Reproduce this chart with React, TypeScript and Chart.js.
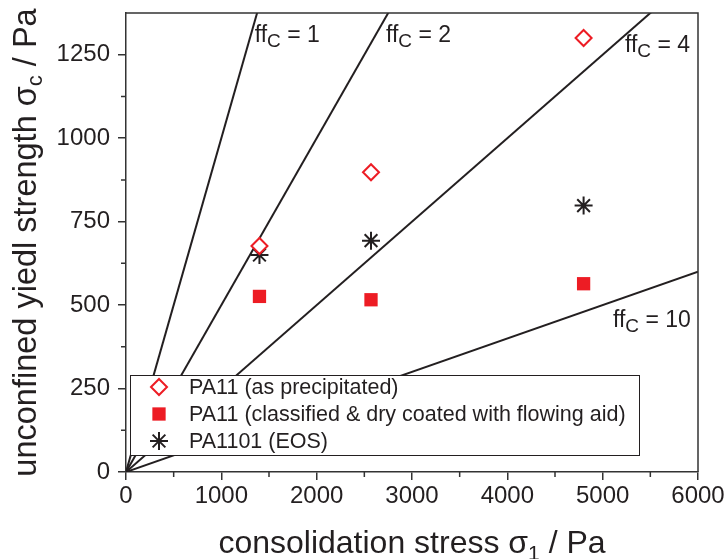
import React, { useEffect, useRef } from 'react';
import { Chart, registerables } from 'chart.js';
import { drawPoint } from 'chart.js/helpers';

Chart.register(...registerables);

// ---- data ----
const stressAsPrecipitated = [1400, 2570, 4800];
const strengthAsPrecipitated = [677, 898, 1300];
const stressClassified = [1400, 2570, 4800];
const strengthClassified = [526, 516, 564];
const stressEOS = [1400, 2570, 4800];
const strengthEOS = [650, 693, 798];

const flowFactors = [1, 2, 4, 10];
const flowLabelTexts = ['= 1', '= 2', '= 4', '= 10'];
const flowLabelX = [1350, 2727, 5234, 5108];
const flowLabelY = [1287, 1287, 1258, 435];

const seriesNames = [
  'PA11 (as precipitated)',
  'PA11 (classified & dry coated with flowing aid)',
  'PA1101 (EOS)',
];

const xMin = 0, xMax = 6000, xStep = 1000;
const yMin = 0, yMax = 1375, yStep = 250;
const xMinorTicks = [500, 1500, 2500, 3500, 4500, 5500];
const yMinorTicks = [125, 375, 625, 875, 1125];

const xTitleMain = 'consolidation stress σ';
const xTitleSub = '1';
const xTitleEnd = ' / Pa';
const yTitleMain = 'unconfined yiedl strength σ';
const yTitleSub = 'c';
const yTitleEnd = ' / Pa';

// ---- style ----
const FONT = "'Liberation Sans', Arial, Helvetica, sans-serif";
const INK = '#231f20';
const AXIS = '#333333';
const RED = '#ed1c24';

const markerStyles = [
  { pointStyle: 'rectRot', radius: 8, borderWidth: 2, borderColor: RED, backgroundColor: '#ffffff' },
  { pointStyle: 'rect', radius: 9.4, borderWidth: 0, borderColor: RED, backgroundColor: RED },
  { pointStyle: 'star', radius: 9, borderWidth: 2, borderColor: INK, backgroundColor: INK },
];

function drawSubText(ctx: CanvasRenderingContext2D, parts: { t: string; size: number; dy: number }[], x: number, y: number, align: 'left' | 'center') {
  let total = 0;
  const widths = parts.map((p) => {
    ctx.font = `${p.size}px ${FONT}`;
    const w = ctx.measureText(p.t).width;
    total += w;
    return w;
  });
  let cx = align === 'center' ? x - total / 2 : x;
  ctx.textAlign = 'left';
  ctx.textBaseline = 'alphabetic';
  parts.forEach((p, i) => {
    ctx.font = `${p.size}px ${FONT}`;
    ctx.fillText(p.t, cx, y + p.dy);
    cx += widths[i];
  });
}

const decorPlugin = {
  id: 'decor',
  afterDatasetsDraw(chart: any) {
    const { ctx, chartArea: a, scales } = chart;
    const xs = scales.x, ys = scales.y;
    ctx.save();
    // flow factor labels
    ctx.fillStyle = INK;
    flowFactors.forEach((_, i) => {
      const px = xs.getPixelForValue(flowLabelX[i]);
      const py = ys.getPixelForValue(flowLabelY[i]);
      drawSubText(ctx, [
        { t: 'ff', size: 23, dy: 0 },
        { t: 'C', size: 19, dy: 5 },
        { t: ' ' + flowLabelTexts[i], size: 23, dy: 0 },
      ], px, py, 'left');
    });
    // legend box
    const lx = a.left + 4, ly = a.bottom - 97, lw = 509, lh = 80;
    ctx.fillStyle = '#ffffff';
    ctx.fillRect(lx, ly, lw, lh);
    ctx.strokeStyle = INK;
    ctx.lineWidth = 1;
    ctx.strokeRect(lx + 0.5, ly + 0.5, lw, lh);
    seriesNames.forEach((name, i) => {
      const rowY = ly + 12 + i * 27;
      const m = markerStyles[i];
      ctx.fillStyle = m.backgroundColor;
      ctx.strokeStyle = m.borderColor;
      ctx.lineWidth = m.borderWidth;
      drawPoint(ctx, { pointStyle: m.pointStyle as any, radius: m.radius, rotation: 0, borderWidth: m.borderWidth }, lx + 29, rowY);
      ctx.fillStyle = INK;
      ctx.font = `21.5px ${FONT}`;
      ctx.textAlign = 'left';
      ctx.textBaseline = 'middle';
      ctx.fillText(name, lx + 59, rowY + 1);
    });
    ctx.restore();
  },
  afterDraw(chart: any) {
    const { ctx, chartArea: a, scales } = chart;
    const xs = scales.x, ys = scales.y;
    ctx.save();
    ctx.strokeStyle = AXIS;
    ctx.lineWidth = 1.5;
    ctx.beginPath();
    ctx.moveTo(a.left, a.top);
    ctx.lineTo(a.right, a.top);
    ctx.lineTo(a.right, a.bottom);
    xMinorTicks.forEach((v) => {
      const px = xs.getPixelForValue(v);
      ctx.moveTo(px, a.bottom);
      ctx.lineTo(px, a.bottom + 5);
    });
    yMinorTicks.forEach((v) => {
      const py = ys.getPixelForValue(v);
      ctx.moveTo(a.left, py);
      ctx.lineTo(a.left - 5, py);
    });
    ctx.stroke();
    // axis titles
    ctx.fillStyle = INK;
    drawSubText(ctx, [
      { t: xTitleMain, size: 32, dy: 0 },
      { t: xTitleSub, size: 21, dy: 7 },
      { t: xTitleEnd, size: 32, dy: 0 },
    ], (a.left + a.right) / 2, 553, 'center');
    ctx.translate(36, (a.top + a.bottom) / 2);
    ctx.rotate(-Math.PI / 2);
    drawSubText(ctx, [
      { t: yTitleMain, size: 32.5, dy: 0 },
      { t: yTitleSub, size: 22, dy: 6 },
      { t: yTitleEnd, size: 32.5, dy: 0 },
    ], 0, 0, 'center');
    ctx.restore();
  },
};

export default function App() {
  const ref = useRef<HTMLCanvasElement | null>(null);
  useEffect(() => {
    if (!ref.current) return;
    const toPts = (xs: number[], ys: number[]) => xs.map((x, i) => ({ x, y: ys[i] }));
    const scatterSets = [
      toPts(stressAsPrecipitated, strengthAsPrecipitated),
      toPts(stressClassified, strengthClassified),
      toPts(stressEOS, strengthEOS),
    ].map((data, i) => ({
      type: 'scatter' as const,
      label: seriesNames[i],
      data,
      pointStyle: markerStyles[i].pointStyle,
      pointRadius: markerStyles[i].radius,
      pointBorderWidth: markerStyles[i].borderWidth,
      pointBorderColor: markerStyles[i].borderColor,
      pointBackgroundColor: markerStyles[i].backgroundColor,
      showLine: false,
    }));
    const lineSets = flowFactors.map((ff) => ({
      type: 'line' as const,
      label: 'ffc=' + ff,
      data: [{ x: xMin, y: xMin / ff }, { x: xMax, y: xMax / ff }],
      borderColor: INK,
      borderWidth: 2,
      pointRadius: 0,
      clip: 0,
    }));
    const tickFont = { family: FONT, size: 24 };
    const noPad = (s: any) => { s.paddingTop = 0; s.paddingBottom = 0; s.paddingLeft = 0; s.paddingRight = 0; };
    const chart = new Chart(ref.current, {
      type: 'scatter',
      data: { datasets: [...scatterSets, ...lineSets] as any },
      options: {
        animation: false,
        responsive: false,
        devicePixelRatio: 1,
        layout: { padding: { left: 0, top: 13, right: 29, bottom: 0 } },
        plugins: { legend: { display: false }, tooltip: { enabled: false } },
        scales: {
          x: {
            type: 'linear',
            min: xMin,
            max: xMax,
            ticks: { stepSize: xStep, includeBounds: false, font: tickFont, color: INK, padding: 2, maxRotation: 0, callback: (v: any) => String(v) },
            grid: { drawOnChartArea: false, drawTicks: true, tickLength: 8, color: AXIS, lineWidth: 1.5 },
            border: { display: true, color: AXIS, width: 1.5 },
            afterFit: (s: any) => { s.height = 87; noPad(s); },
          },
          y: {
            type: 'linear',
            min: yMin,
            max: yMax,
            ticks: { stepSize: yStep, includeBounds: false, font: tickFont, color: INK, padding: 8, callback: (v: any) => String(v) },
            grid: { drawOnChartArea: false, drawTicks: true, tickLength: 8, color: AXIS, lineWidth: 1.5 },
            border: { display: true, color: AXIS, width: 1.5 },
            afterFit: (s: any) => { s.width = 126; noPad(s); },
          },
        },
      } as any,
      plugins: [decorPlugin],
    });
    return () => chart.destroy();
  }, []);
  return (
    <div style={{ position: 'absolute', left: 0, top: 0, width: 727, height: 559, background: '#fff' }}>
      <canvas ref={ref} width={727} height={559} style={{ display: 'block' }} />
    </div>
  );
}
